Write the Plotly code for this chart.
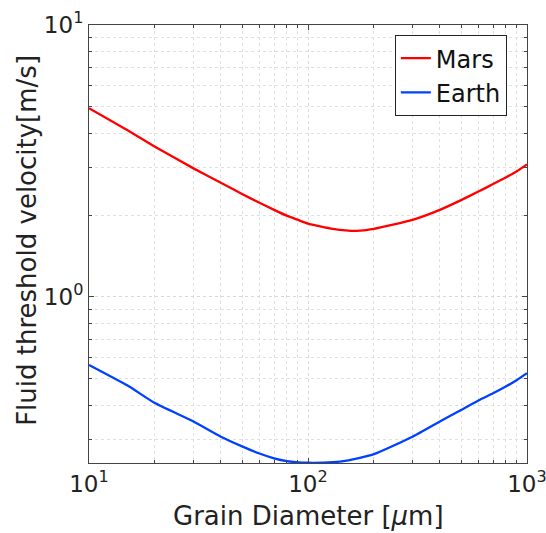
import plotly.graph_objects as go

# Grain diameter (micrometres)
mars_d = [10, 15, 20, 30, 40, 50, 60, 70, 80, 90, 100, 130, 167, 200, 300, 400, 500, 600, 700, 800, 900, 1000]
# Fluid threshold velocity (m/s)
mars = [4.94, 4.10, 3.57, 2.97, 2.63, 2.39, 2.22, 2.09, 1.99, 1.92, 1.86, 1.78, 1.75, 1.78, 1.92, 2.09, 2.27, 2.44, 2.60, 2.75, 2.90, 3.07]
earth_d = [10, 15, 20, 30, 40, 50, 60, 70, 80, 90, 100, 130, 150, 200, 300, 400, 500, 600, 700, 800, 900, 1000]
earth = [0.562, 0.472, 0.407, 0.348, 0.306, 0.282, 0.2655, 0.255, 0.249, 0.2465, 0.2455, 0.2467, 0.250, 0.264, 0.306, 0.348, 0.384, 0.416, 0.442, 0.468, 0.495, 0.524]

x_major = [10, 100, 1000]
x_major_text = ["10<sup>1</sup>", "10<sup>2</sup>", "10<sup>3</sup>"]
y_major = [1, 10]
y_major_text = ["10<sup>0</sup>", "10<sup>1</sup>"]

x_minor = [m * d for d in (10, 100) for m in range(2, 10)]
y_minor = [m * d for d in (0.1, 1) for m in range(2, 10) if m * d > 0.245]

fig = go.Figure()
fig.add_trace(go.Scatter(x=mars_d, y=mars, mode="lines", name="Mars",
                         line=dict(color="#ff0000", width=2.3, shape="spline", smoothing=0.5)))
fig.add_trace(go.Scatter(x=earth_d, y=earth, mode="lines", name="Earth",
                         line=dict(color="#0040ff", width=2.3, shape="spline", smoothing=0.5)))

font = "DejaVu Sans"
axis_common = dict(
    type="log", showline=True, linecolor="#444", linewidth=1, mirror="ticks",
    ticks="inside", ticklen=5, tickcolor="#444", automargin=False,
    showgrid=True, gridcolor="#d8d8d8", griddash="dot", gridwidth=1,
    zeroline=False, tickfont=dict(family=font, size=23, color="#222"),
)

fig.update_xaxes(
    **axis_common, range=[1, 3], tickmode="array", tickvals=x_major, ticktext=x_major_text,
    ticklabeloverflow="allow",
    minor=dict(tickmode="array", tickvals=x_minor, ticks="inside", ticklen=3, tickcolor="#444",
               showgrid=True, gridcolor="#e0e0e0", griddash="dot"),
)
fig.update_yaxes(
    **axis_common, range=[-0.6108, 1], tickmode="array", tickvals=y_major, ticktext=y_major_text,
    minor=dict(tickmode="array", tickvals=y_minor, ticks="inside", ticklen=3, tickcolor="#444",
               showgrid=True, gridcolor="#e0e0e0", griddash="dot"),
)

fig.add_annotation(text="Grain Diameter [<i>μ</i>m]", xref="paper", yref="paper",
                   x=0.5, y=-0.121, xanchor="center", yanchor="middle", showarrow=False,
                   font=dict(family=font, size=26, color="#222"))
fig.add_annotation(text="Fluid threshold velocity[m/s]", xref="paper", yref="paper",
                   x=-0.142, y=0.509, xanchor="center", yanchor="middle", textangle=-90,
                   showarrow=False, font=dict(family=font, size=26, color="#222"))

fig.update_layout(
    width=546, height=533,
    margin=dict(l=89, r=19, t=25, b=70),
    paper_bgcolor="white", plot_bgcolor="white",
    showlegend=True,
    legend=dict(x=0.954, y=0.977, xanchor="right", yanchor="top",
                bgcolor="white", bordercolor="#222", borderwidth=1,
                font=dict(family=font, size=24, color="#111"),
                itemwidth=30, tracegroupgap=0),
)

fig.write_html("out.html", config={"displayModeBar": False},
               post_script="document.body.style.margin='0';")
